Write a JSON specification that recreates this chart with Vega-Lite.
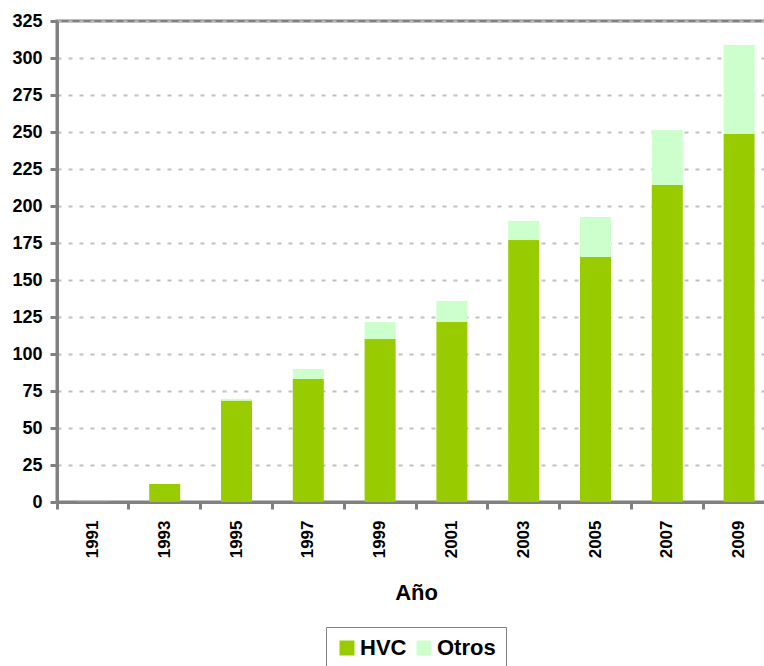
{
  "$schema": "https://vega.github.io/schema/vega-lite/v6.json",
  "width": 718,
  "height": 481,
  "autosize": "none",
  "padding": {"left": 57, "top": 21, "right": 0, "bottom": 164},
  "background": "white",
  "config": {
    "font": "Liberation Sans",
    "view": {"stroke": "#808080", "strokeWidth": 3}
  },
  "data": {
    "values": [
      {"year": "1991", "type": "HVC", "value": 0.3},
      {"year": "1991", "type": "Otros", "value": 0},
      {"year": "1993", "type": "HVC", "value": 12.2},
      {"year": "1993", "type": "Otros", "value": 0},
      {"year": "1995", "type": "HVC", "value": 68.5},
      {"year": "1995", "type": "Otros", "value": 1.2},
      {"year": "1997", "type": "HVC", "value": 83.1},
      {"year": "1997", "type": "Otros", "value": 6.8},
      {"year": "1999", "type": "HVC", "value": 110.1},
      {"year": "1999", "type": "Otros", "value": 11.5},
      {"year": "2001", "type": "HVC", "value": 121.6},
      {"year": "2001", "type": "Otros", "value": 14.2},
      {"year": "2003", "type": "HVC", "value": 177},
      {"year": "2003", "type": "Otros", "value": 12.9},
      {"year": "2005", "type": "HVC", "value": 165.5},
      {"year": "2005", "type": "Otros", "value": 27.1},
      {"year": "2007", "type": "HVC", "value": 214.2},
      {"year": "2007", "type": "Otros", "value": 37.2},
      {"year": "2009", "type": "HVC", "value": 248.6},
      {"year": "2009", "type": "Otros", "value": 60.2}
    ]
  },
  "mark": {"type": "bar", "width": 31},
  "encoding": {
    "x": {
      "field": "year",
      "type": "ordinal",
      "scale": {"paddingInner": 0, "paddingOuter": 0},
      "axis": {
        "title": "Año",
        "titleFontSize": 22,
        "titleFontWeight": "bold",
        "titleColor": "#000000",
        "titlePadding": 25,
        "labelAngle": 270,
        "labelAlign": "right",
        "labelBaseline": "middle",
        "labelFontSize": 17,
        "labelFontWeight": "bold",
        "labelColor": "#000000",
        "labelPadding": 11,
        "bandPosition": 0,
        "tickSize": 7,
        "tickWidth": 3,
        "tickColor": "#808080",
        "domainColor": "#808080",
        "domainWidth": 3,
        "grid": false
      }
    },
    "y": {
      "field": "value",
      "type": "quantitative",
      "aggregate": "sum",
      "stack": "zero",
      "scale": {"domain": [0, 325], "nice": false},
      "axis": {
        "title": null,
        "values": [0, 25, 50, 75, 100, 125, 150, 175, 200, 225, 250, 275, 300, 325],
        "labelFontSize": 18,
        "labelFontWeight": "bold",
        "labelColor": "#000000",
        "labelPadding": 8,
        "tickSize": 7,
        "tickWidth": 3,
        "tickColor": "#808080",
        "domainColor": "#808080",
        "domainWidth": 3,
        "grid": true,
        "gridColor": "#C0C0C0",
        "gridWidth": 2,
        "gridDash": [4, 7],
        "labelBound": false
      }
    },
    "color": {
      "field": "type",
      "type": "nominal",
      "scale": {"domain": ["HVC", "Otros"], "range": ["#99CC00", "#CCFFCC"]},
      "legend": {
        "title": null,
        "orient": "none",
        "legendX": 269,
        "legendY": 606,
        "direction": "horizontal",
        "symbolType": "square",
        "symbolSize": 225,
        "symbolStrokeWidth": 0,
        "labelFontSize": 22,
        "labelFontWeight": "bold",
        "labelColor": "#000000",
        "labelOffset": 2,
        "columnPadding": 6,
        "strokeColor": "#808080",
        "padding": 10
      }
    },
    "order": {"field": "type", "sort": "ascending"}
  }
}
